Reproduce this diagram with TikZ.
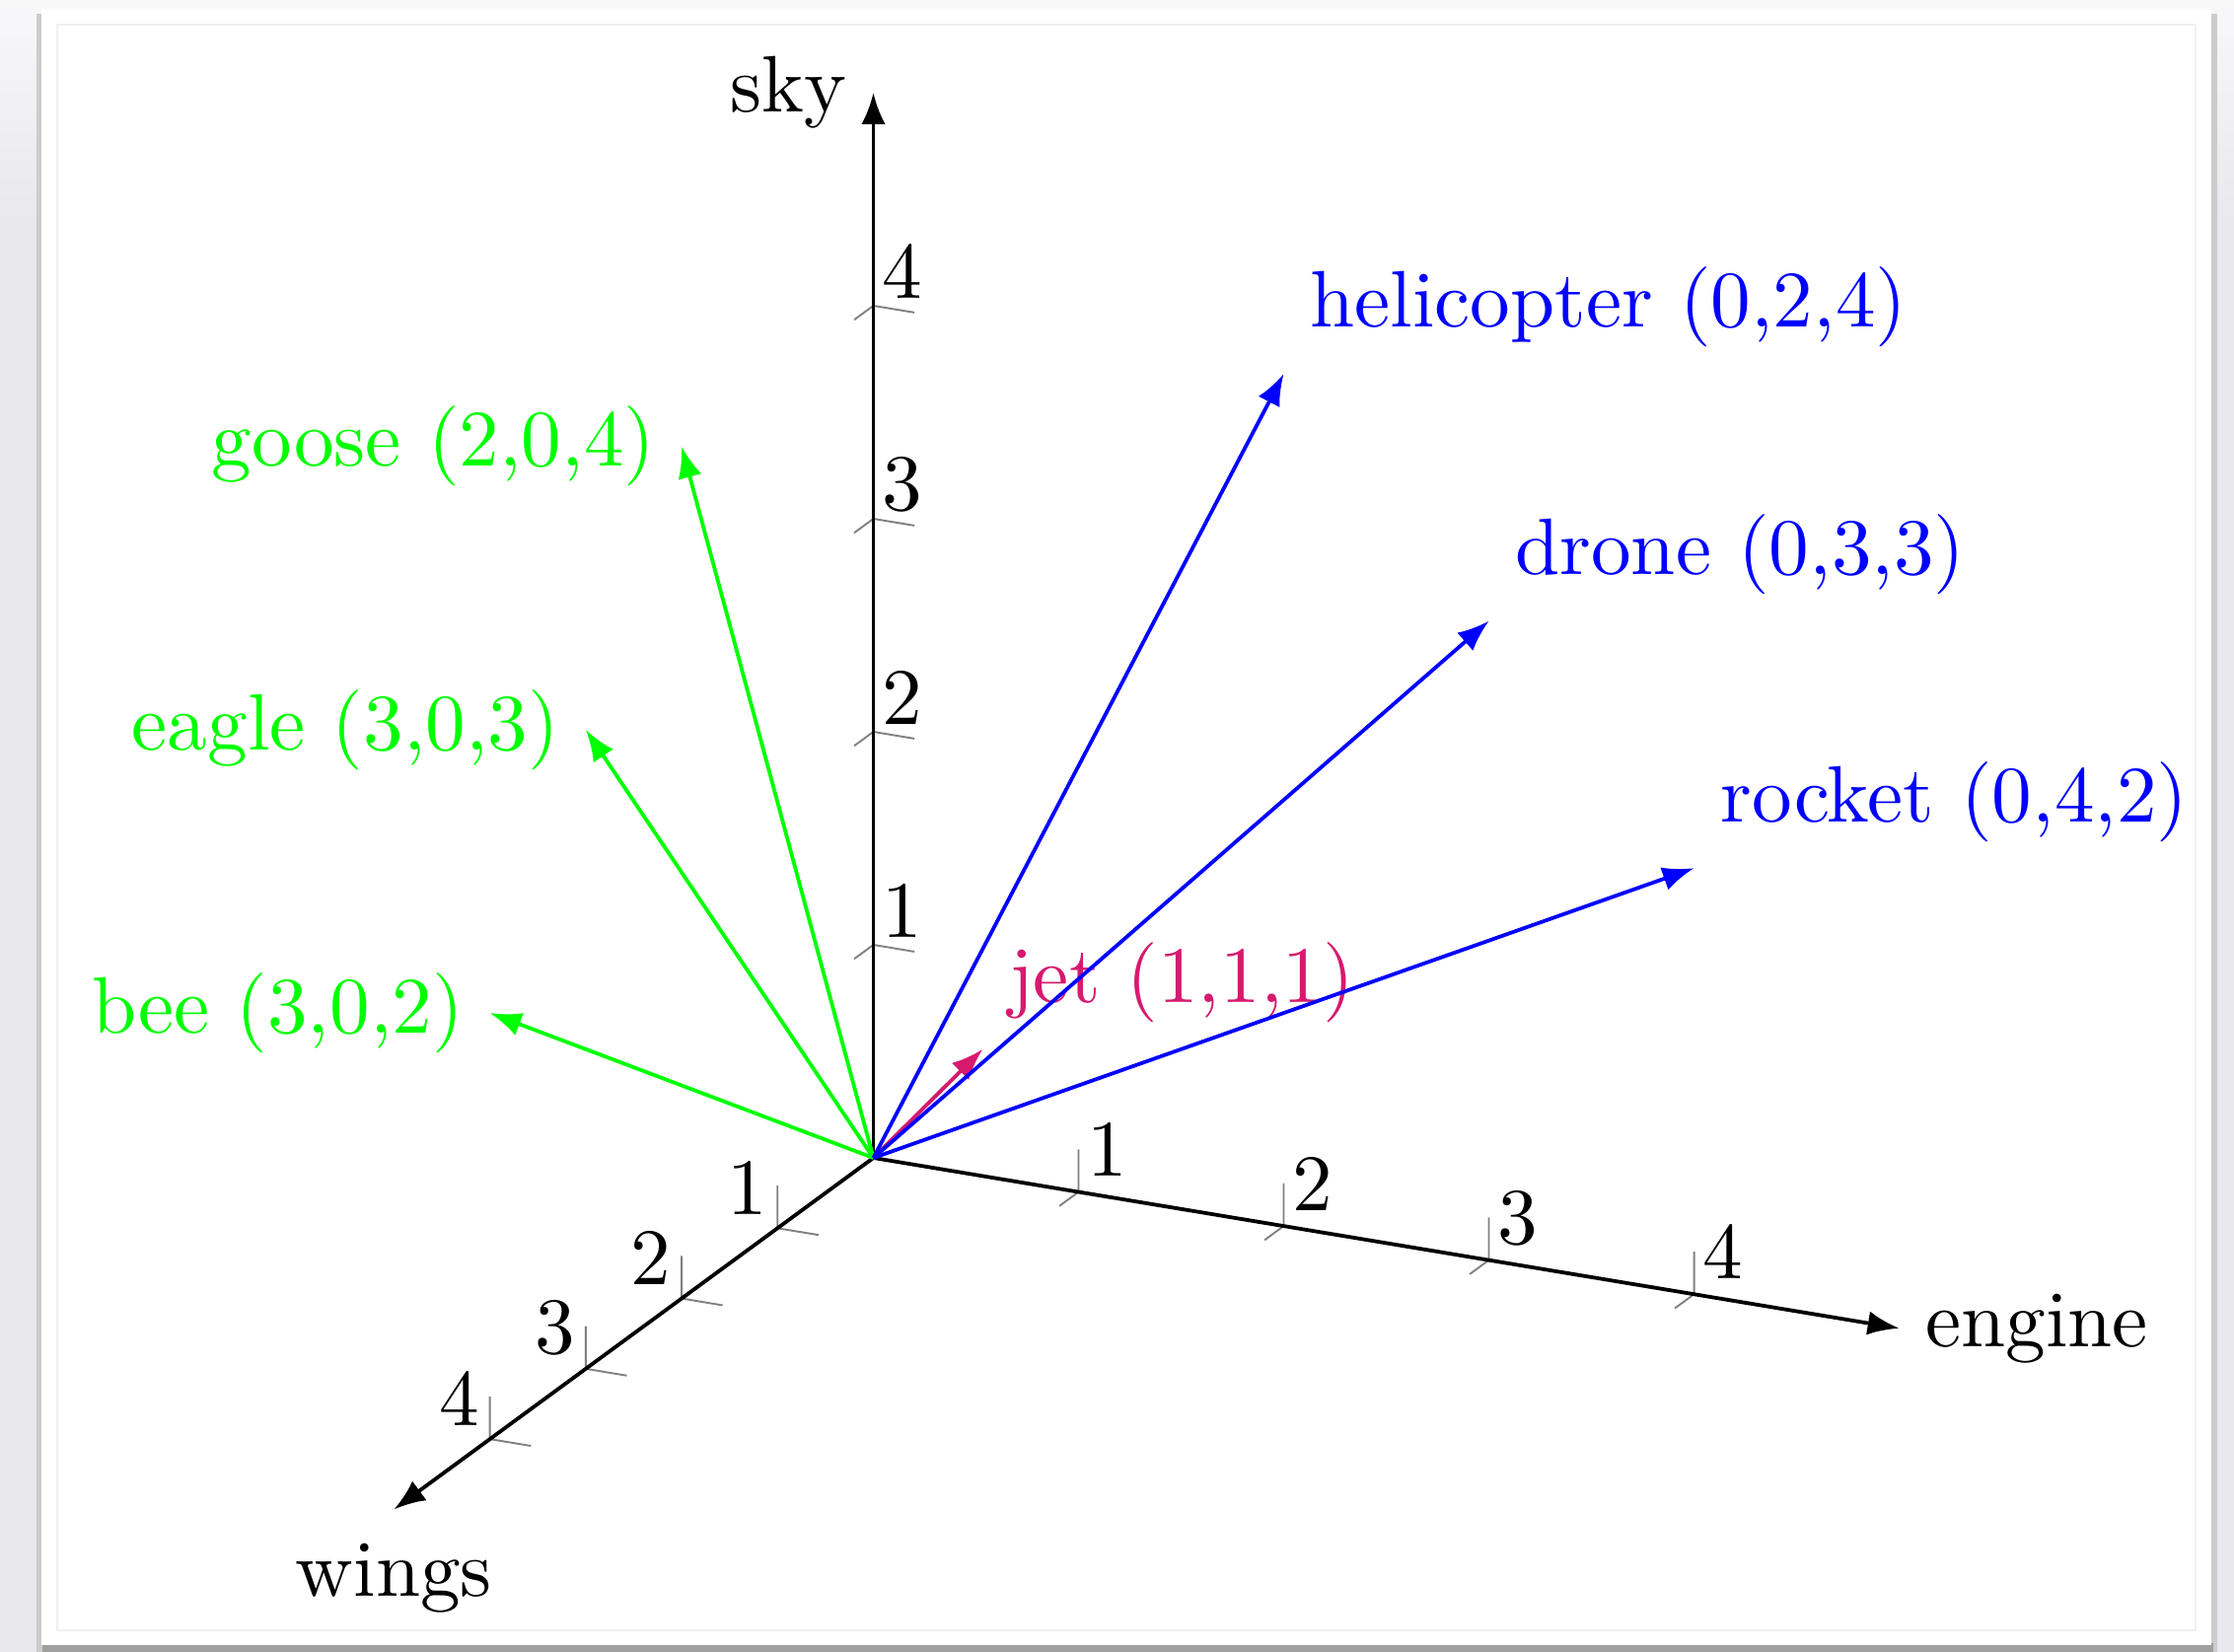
\documentclass[tikz,border=0pt]{standalone}
\usepackage{tikz}
\usetikzlibrary{arrows.meta}
\definecolor{jetpink}{RGB}{214,26,110}
\definecolor{deskgray}{RGB}{232,232,237}
\tikzset{
	axisline/.style={line width=0.5pt, -{Latex[length=4.2pt,width=3.2pt]}},
	vecline/.style={line width=0.5pt, -{Latex[length=4.2pt,width=3.2pt]}}
}
\tikzset{
	tickmark/.style={gray, line width=0.25pt},
	ticknum/.style={inner sep=0pt}
}

\begin{document}
\begin{tikzpicture}[x={(-0.45cm,-0.33cm)}, y={(0.963cm,-0.16cm)}, z={(0cm,1cm)},
    font=\fontsize{10.7}{12.8}\selectfont]
      % sheet
      \useasboundingbox (-4.0995cm,-2.319cm) rectangle (6.3866cm,5.435cm);
      \fill[deskgray] (-4.0995cm,-2.319cm) rectangle (6.3866cm,4.4cm);
      \shade[top color=white!70!deskgray, bottom color=deskgray]
        (-4.0995cm,4.39cm) rectangle (6.3866cm,5.435cm);
      \fill[gray!40] (-3.93cm,-2.319cm) rectangle (6.31cm,5.37cm);
      \fill[gray!75] (-3.9cm,-2.319cm) rectangle (6.29cm,-2.28cm);
      \fill[white] (-3.905cm,-2.287cm) rectangle (6.280cm,5.394cm);
      \draw[gray!12, line width=0.3pt] (-3.831cm,-2.218cm) rectangle (6.206cm,5.319cm);

      % ticks
      \foreach \k in {1,...,4} {
        \draw[tickmark] (\k,0,0) -- ++(0,0,0.2) (\k,0,0) -- ++(0,0.2,0);
        \draw[tickmark] (0,\k,0) -- ++(0,0,0.2) (0,\k,0) -- ++(0.2,0,0);
        \draw[tickmark] (0,0,\k) -- ++(0.2,0,0) (0,0,\k) -- ++(0,0.2,0);
        \node[ticknum, xshift=-0.143cm, yshift=0.19cm] (wnum\k) at (\k,0,0) {\k};
        \node[ticknum, xshift=0.135cm, yshift=0.198cm] (enum\k) at (0,\k,0) {\k};
        \node[ticknum, xshift=0.134cm, yshift=0.162cm] (snum\k) at (0,0,\k) {\k};
      }

      % axes
      \coordinate (O) at (0,0,0);
      \coordinate (wingsend) at (5,0,0);
      \coordinate (engineend) at (0,5,0);
      \coordinate (skyend) at (0,0,5);
      \draw[axisline] (O) -- (wingsend);
      \draw[axisline] (O) -- (engineend);
      \draw[axisline] (O) -- (skyend);
      \node[below=1pt] (wings) at (wingsend) {wings};
      \node[right] (engine) at (engineend) {engine};
      \node[left] (sky) at (skyend) {sky};

      % birds
      \coordinate (bee) at (4,0,2);
      \coordinate (eagle) at (3,0,3);
      \coordinate (goose) at (2,0,4);
      \draw[vecline, green] (O) -- (bee);
      \draw[vecline, green] (O) -- (eagle);
      \draw[vecline, green] (O) -- (goose);
      \node[left, green] (beelab) at (bee) {bee (3,0,2)};
      \node[left, green] (eaglelab) at (eagle) {eagle (3,0,3)};
      \node[left, green] (gooselab) at (goose) {goose (2,0,4)};

      % jet
      \coordinate (jet) at (1,1,1);
      \node[above right, jetpink] (jetlab) at (jet) {jet (1,1,1)};
      \draw[vecline, jetpink] (O) -- (jet);

      % machines
      \coordinate (heli) at (0,2,4);
      \coordinate (drone) at (0,3,3);
      \coordinate (rocket) at (0,4,2);
      \draw[vecline, blue] (O) -- (heli);
      \draw[vecline, blue] (O) -- (drone);
      \draw[vecline, blue] (O) -- (rocket);
      \node[above right, blue] (helilab) at (heli) {helicopter (0,2,4)};
      \node[above right, blue] (dronelab) at (drone) {drone (0,3,3)};
      \node[above right, blue] (rocketlab) at (rocket) {rocket (0,4,2)};
\end{tikzpicture}
\end{document}
